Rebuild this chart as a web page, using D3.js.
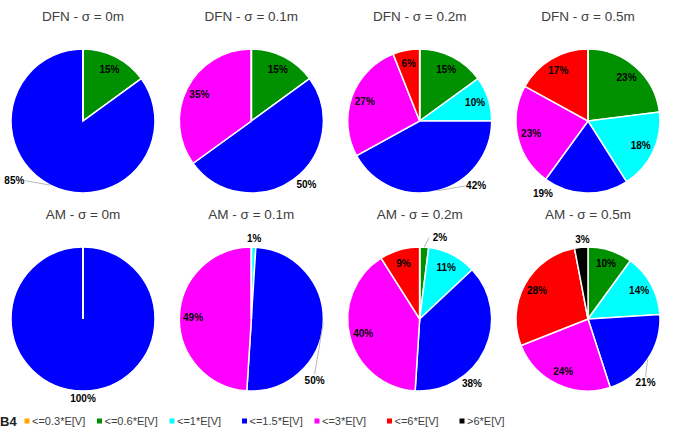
<!DOCTYPE html>
<html lang="en">
<head>
  <meta charset="UTF-8">
  <title>DFN / AM pies</title>
  <script src="https://d3js.org/d3.v7.min.js"></script>
  <style>
    body { margin: 0; background: #fff; font-family: "Liberation Sans", Arial, sans-serif; }
    .title { font-size: 13.5px; fill: #404040; }
    .lbl { font-size: 10px; font-weight: bold; fill: #000; }
    .leg { font-size: 11px; fill: #404040; font-family: "Liberation Sans Narrow", "Liberation Sans", Arial, sans-serif; }
  </style>
</head>
<body>
  <div id="chart"></div>
  <script>
    // classes (legend order = slice order, clockwise from 12 o'clock)
    var categories = ['<=0.3*E[V]', '<=0.6*E[V]', '<=1*E[V]', '<=1.5*E[V]', '<=3*E[V]', '<=6*E[V]', '>6*E[V]'];
    var colors = ['#FFA500', '#009000', '#00FFFF', '#0000FF', '#FF00FF', '#FF0000', '#000000'];

    var titles = ['DFN - σ = 0m', 'DFN - σ = 0.1m', 'DFN - σ = 0.2m', 'DFN - σ = 0.5m',
                  'AM - σ = 0m', 'AM - σ = 0.1m', 'AM - σ = 0.2m', 'AM - σ = 0.5m'];

    // percentages per class
    var dfn00 = [0, 15, 0, 85, 0, 0, 0];
    var dfn01 = [0, 15, 0, 50, 35, 0, 0];
    var dfn02 = [0, 15, 10, 42, 27, 6, 0];
    var dfn05 = [0, 23, 18, 19, 23, 17, 0];
    var am00  = [0, 0, 0, 100, 0, 0, 0];
    var am01  = [0, 0, 1, 50, 49, 0, 0];
    var am02  = [0, 2, 11, 38, 40, 9, 0];
    var am05  = [0, 10, 14, 21, 24, 28, 3];
    var series = [dfn00, dfn01, dfn02, dfn05, am00, am01, am02, am05];

    // labels that sit outside the pie: class index, angle (deg), distance (px), leader line
    var outside = [
      [{i: 3, a: 229, d: 91, leader: true}],
      [{i: 3, a: 139, d: 84, leader: false}],
      [{i: 3, a: 139, d: 86, leader: true}],
      [{i: 3, a: 212, d: 85, leader: false}],
      [{i: 3, a: 180, d: 79, leader: false}],
      [{i: 2, a: 2, d: 81, leader: false}, {i: 3, a: 134, d: 88, leader: true}],
      [{i: 1, a: 14, d: 84, leader: true}, {i: 3, a: 141, d: 83, leader: false}],
      [{i: 6, a: 356, d: 80, leader: false}, {i: 3, a: 138, d: 86, leader: true}]
    ];

    var W = 685, H = 439, R = 72;
    var svg = d3.select('#chart').append('svg').attr('width', W).attr('height', H);

    var colX = d3.scaleLinear().domain([0, 3]).range([83, 588]);
    var rowY = d3.scaleLinear().domain([0, 1]).range([121, 319]);

    var pie = d3.pie().sort(null).value(function(d) { return d; });
    var arc = d3.arc().innerRadius(0).outerRadius(R);
    var inArc = d3.arc().innerRadius(R * 0.81).outerRadius(R * 0.81);

    function polar(a, d) {
      var t = a * Math.PI / 180;
      return [d * Math.sin(t), -d * Math.cos(t)];
    }

    series.forEach(function(vals, k) {
      var cx = colX(k % 4), cy = rowY(Math.floor(k / 4));
      var g = svg.append('g').attr('transform', 'translate(' + cx + ',' + cy + ')');

      g.append('text').attr('class', 'title')
        .attr('x', 0).attr('y', -100)
        .attr('text-anchor', 'middle')
        .text(titles[k]);

      var slices = pie(vals);
      g.selectAll('path').data(slices).enter().append('path')
        .attr('d', arc)
        .attr('fill', function(d, i) { return colors[i]; })
        .attr('stroke', '#fff')
        .attr('stroke-width', 1.5);

      var outIdx = outside[k].map(function(o) { return o.i; });

      slices.forEach(function(s, i) {
        if (s.data <= 0 || outIdx.indexOf(i) >= 0) return;
        var c = inArc.centroid(s);
        g.append('text').attr('class', 'lbl')
          .attr('x', c[0]).attr('y', c[1]).attr('dy', '0.35em')
          .attr('text-anchor', 'middle')
          .text(s.data + '%');
      });

      outside[k].forEach(function(o) {
        var s = slices[o.i];
        var p = polar(o.a, o.d);
        if (o.leader) {
          var mid = (s.startAngle + s.endAngle) / 2 * 180 / Math.PI;
          var e = polar(mid, R);
          var dx = p[0] - e[0], dy = p[1] - e[1], end;
          if (Math.abs(dx) > Math.abs(dy)) end = [p[0] - Math.sign(dx) * 11, p[1]];
          else end = [p[0], p[1] - Math.sign(dy) * 6];
          g.append('line')
            .attr('x1', e[0]).attr('y1', e[1]).attr('x2', end[0]).attr('y2', end[1])
            .attr('stroke', '#a6a6a6').attr('stroke-width', 0.8);
        }
        g.append('text').attr('class', 'lbl')
          .attr('x', p[0]).attr('y', p[1]).attr('dy', '0.35em')
          .attr('text-anchor', 'middle')
          .text(s.data + '%');
      });
    });

    // legend
    svg.append('text').attr('x', 0).attr('y', 426)
      .style('font-size', '13px').style('font-weight', 'bold').attr('fill', '#222')
      .text('B4');

    var legX = d3.scalePoint().domain(categories).range([27, 462]);
    var leg = svg.selectAll('.legitem').data(categories).enter().append('g')
      .attr('transform', function(d) { return 'translate(' + legX(d) + ',421)'; });
    leg.append('rect').attr('x', -2.5).attr('y', -2.5).attr('width', 5).attr('height', 5)
      .attr('fill', function(d, i) { return colors[i]; });
    leg.append('text').attr('class', 'leg').attr('x', 5).attr('dy', '0.35em')
      .text(function(d) { return d; });
  </script>
</body>
</html>
